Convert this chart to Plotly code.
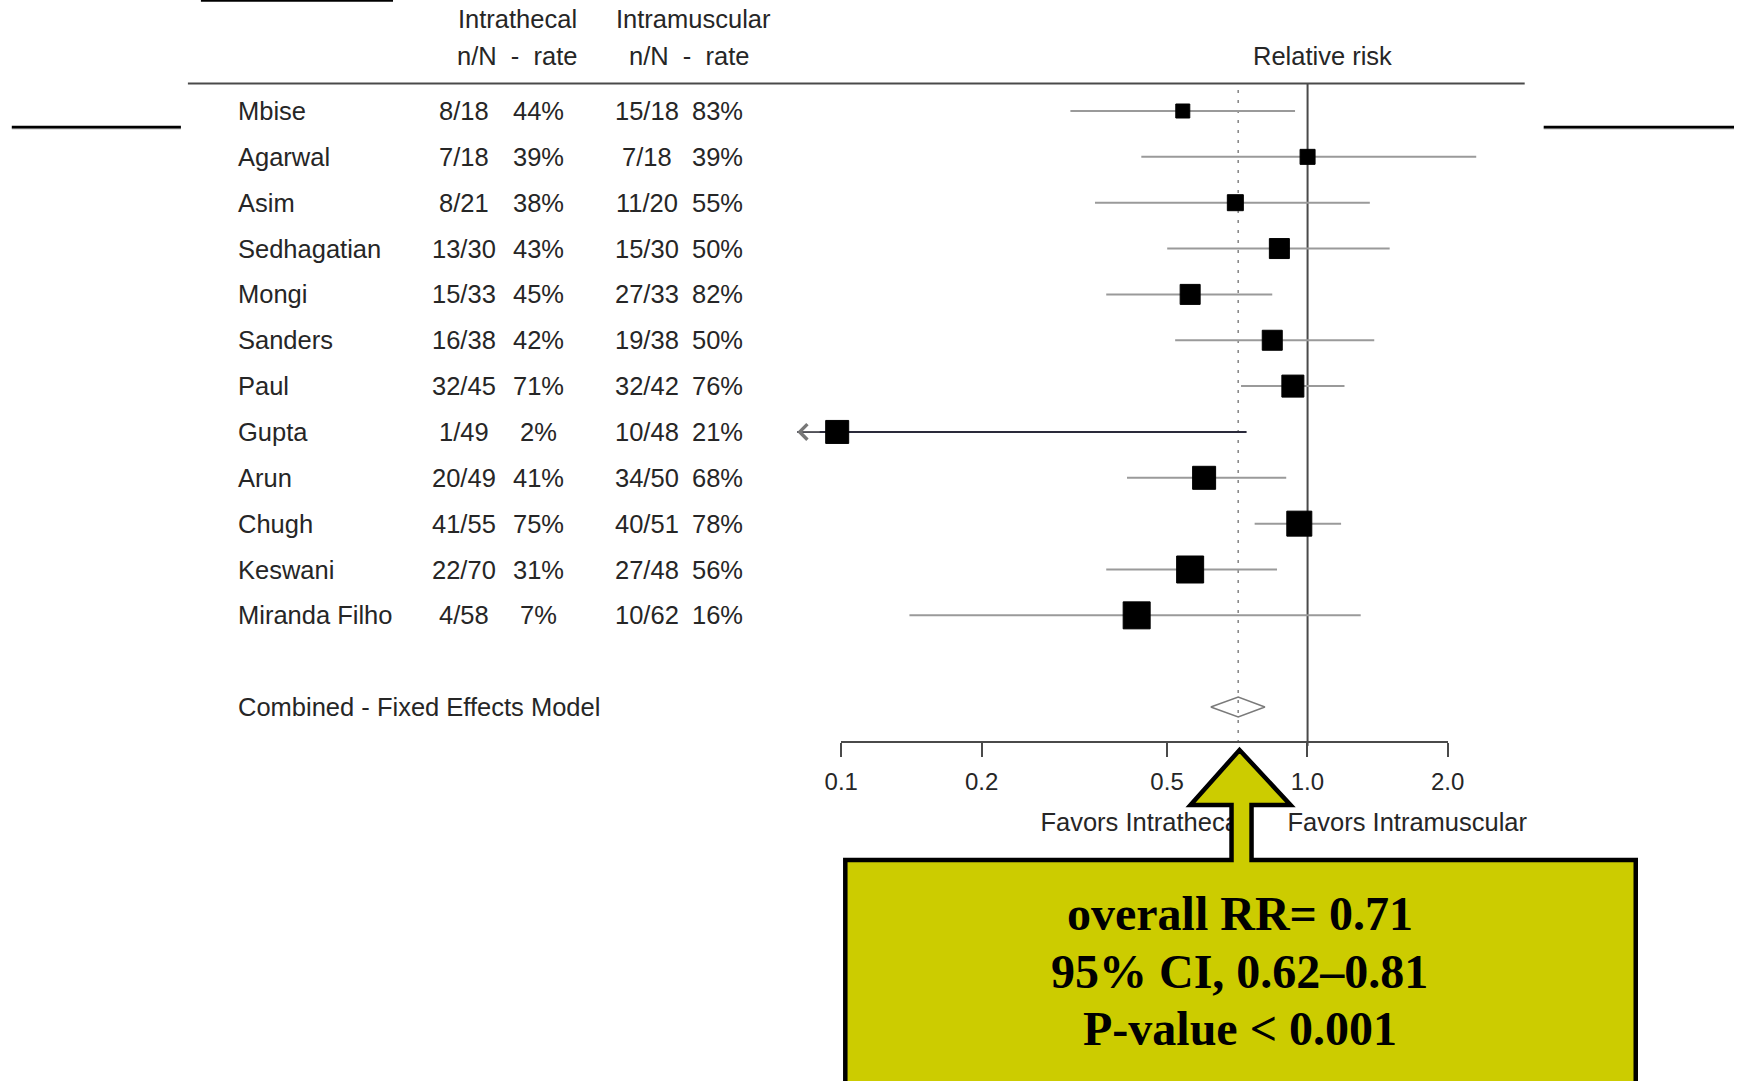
import math
import plotly.graph_objects as go

# ---------------- data ----------------
studies = ["Mbise", "Agarwal", "Asim", "Sedhagatian", "Mongi", "Sanders",
           "Paul", "Gupta", "Arun", "Chugh", "Keswani", "Miranda Filho"]
it_nN = ["8/18", "7/18", "8/21", "13/30", "15/33", "16/38",
         "32/45", "1/49", "20/49", "41/55", "22/70", "4/58"]
it_rate = ["44%", "39%", "38%", "43%", "45%", "42%",
           "71%", "2%", "41%", "75%", "31%", "7%"]
im_nN = ["15/18", "7/18", "11/20", "15/30", "27/33", "19/38",
         "32/42", "10/48", "34/50", "40/51", "27/48", "10/62"]
im_rate = ["83%", "39%", "55%", "50%", "82%", "50%",
           "76%", "21%", "68%", "78%", "56%", "16%"]
rr = [0.54, 1.00, 0.70, 0.87, 0.56, 0.84, 0.93, 0.098, 0.60, 0.96, 0.56, 0.43]
ci_lo = [0.31, 0.44, 0.35, 0.50, 0.37, 0.52, 0.72, 0.013, 0.41, 0.77, 0.37, 0.14]
ci_hi = [0.94, 2.30, 1.36, 1.50, 0.84, 1.39, 1.20, 0.74, 0.90, 1.18, 0.86, 1.30]

combined_label = "Combined - Fixed Effects Model"
combined_rr = 0.71
combined_lo = 0.62
combined_hi = 0.81

axis_tickvals = [0.1, 0.2, 0.5, 1.0, 2.0]
axis_ticktext = ["0.1", "0.2", "0.5", "1.0", "2.0"]
callout_lines = ["overall RR= 0.71", "95% CI, 0.62\u20130.81", "P-value < 0.001"]

# ---------------- geometry / style ----------------
W, H = 1751, 1081
# horizontal placement correction observed in the rendered page
OFF_X, SCALE_X = 17.2, 0.98
X_ONE, DEC = 1307.0, 466.0          # target pixel of RR=1, pixels per decade
ROW0, ROWH = 111.0, 45.85           # pixel of first row, row pitch
COMBINED_ROW = len(studies) + 1
square_px = [14, 15, 16, 20, 20, 20, 22, 23, 23, 25, 27, 27]

SANS = "Liberation Sans, Arial, sans-serif"
SERIF = "Liberation Serif, Times New Roman, serif"
TXT = "#262626"
FS = 25.5


def px2x(px):
    return (px - OFF_X) / (SCALE_X * W)


def py2y(py):
    return 1 - py / H


def row_of(py):
    return (py - ROW0) / ROWH


def rr_of(px):
    return 10 ** ((px - X_ONE) / DEC)


clip_lo = rr_of(797)
top_row = row_of(84)
axis_row = row_of(742)

fig = go.Figure()

# reference lines
fig.add_trace(go.Scatter(x=[1, 1], y=[top_row, axis_row + 0.3], mode="lines",
                         line=dict(color="#4a4a4a", width=2),
                         hoverinfo="skip", showlegend=False))
fig.add_trace(go.Scatter(x=[combined_rr, combined_rr], y=[row_of(90), axis_row],
                         mode="lines",
                         line=dict(color="#8a8a8a", width=1.6, dash="3px,7px"),
                         hoverinfo="skip", showlegend=False))

# confidence intervals
for i in range(len(studies)):
    lo = max(ci_lo[i], clip_lo)
    clipped = ci_lo[i] < clip_lo
    fig.add_trace(go.Scatter(
        x=[lo, ci_hi[i]], y=[i, i], mode="lines",
        line=dict(color="#2a2a3a" if clipped else "#9a9a9a", width=2),
        hoverinfo="skip", showlegend=False))
    if clipped:
        fig.add_annotation(x=math.log10(lo), y=i, xref="x", yref="y",
                           ax=24, ay=0, showarrow=True, arrowhead=4,
                           arrowsize=2.3, arrowwidth=1.3, arrowcolor="#777777",
                           text="")

# point estimates
fig.add_trace(go.Scatter(
    x=rr, y=list(range(len(studies))), mode="markers",
    marker=dict(symbol="square", size=square_px, color="#000000", opacity=1,
                line=dict(color="#000000", width=1)),
    hoverinfo="skip", showlegend=False))

# combined diamond
dh = 10 / ROWH
fig.add_trace(go.Scatter(
    x=[combined_lo, combined_rr, combined_hi, combined_rr, combined_lo],
    y=[COMBINED_ROW, COMBINED_ROW - dh, COMBINED_ROW, COMBINED_ROW + dh, COMBINED_ROW],
    mode="lines", line=dict(color="#7a7a7a", width=1.5),
    hoverinfo="skip", showlegend=False))

# favors labels (drawn as traces so the callout arrow covers them)
fig.add_trace(go.Scatter(
    x=[rr_of(1244)], y=[row_of(825)], mode="text", text=["Favors Intrathecal"],
    textposition="middle left", textfont=dict(family=SANS, size=FS, color=TXT),
    hoverinfo="skip", showlegend=False))
fig.add_trace(go.Scatter(
    x=[rr_of(1287)], y=[row_of(825)], mode="text", text=["Favors Intramuscular"],
    textposition="middle right", textfont=dict(family=SANS, size=FS, color=TXT),
    hoverinfo="skip", showlegend=False))

# helper trace for the displayed bottom axis
fig.add_trace(go.Scatter(x=[1], y=[0], xaxis="x2", yaxis="y2", mode="markers",
                         marker=dict(size=1, opacity=0), hoverinfo="skip",
                         showlegend=False))


# table text
def add_col(values, xc, anchor="center"):
    for i, v in enumerate(values):
        fig.add_annotation(x=px2x(xc), y=i, xref="paper", yref="y", text=v,
                           showarrow=False, xanchor=anchor, yanchor="middle",
                           font=dict(family=SANS, size=FS, color=TXT))


add_col(studies, 236, "left")
add_col(it_nN, 464)
add_col(it_rate, 538)
add_col(im_nN, 647)
add_col(im_rate, 717)
fig.add_annotation(x=px2x(236), y=COMBINED_ROW, xref="paper", yref="y",
                   text=combined_label, showarrow=False, xanchor="left",
                   yanchor="middle", font=dict(family=SANS, size=FS, color=TXT))

headers = [("Intrathecal", 517, 19), ("n/N  -  rate", 517, 56),
           ("Intramuscular", 693, 19), ("n/N  -  rate", 689, 56),
           ("Relative risk", 1322, 56)]
for t, xc, yc in headers:
    fig.add_annotation(x=px2x(xc), y=py2y(yc), xref="paper", yref="paper",
                       text=t, showarrow=False, xanchor="center", yanchor="middle",
                       font=dict(family=SANS, size=FS, color=TXT))

# callout text
for t, yc in zip(callout_lines, [913, 971, 1028]):
    fig.add_annotation(x=px2x(1239), y=py2y(yc), xref="paper", yref="paper",
                       text="<b>" + t + "</b>", showarrow=False,
                       xanchor="center", yanchor="middle",
                       font=dict(family=SERIF, size=48, color="#000000"))

# decorative lines
shapes = [
    dict(type="line", xref="paper", yref="paper", x0=px2x(188), x1=px2x(1524),
         y0=py2y(83.5), y1=py2y(83.5), line=dict(color="#4a4a4a", width=2), layer="below"),
    dict(type="line", xref="paper", yref="paper", x0=px2x(201), x1=px2x(393),
         y0=py2y(0.8), y1=py2y(0.8), line=dict(color="#000000", width=2)),
    dict(type="line", xref="paper", yref="paper", x0=px2x(12), x1=px2x(181),
         y0=py2y(128.6), y1=py2y(128.6), line=dict(color="#888888", width=1.5)),
    dict(type="line", xref="paper", yref="paper", x0=px2x(12), x1=px2x(181),
         y0=py2y(127), y1=py2y(127), line=dict(color="#000000", width=2.5)),
    dict(type="line", xref="paper", yref="paper", x0=px2x(1543), x1=1,
         y0=py2y(128.6), y1=py2y(128.6), line=dict(color="#888888", width=1.5)),
    dict(type="line", xref="paper", yref="paper", x0=px2x(1543), x1=1,
         y0=py2y(127), y1=py2y(127), line=dict(color="#000000", width=2.5)),
]

# callout box with arrow
pts = [(845, 1100), (845, 860), (1231, 860), (1231, 805), (1190, 805), (1239, 750),
       (1290, 805), (1251, 805), (1251, 860), (1635, 860), (1635, 1100)]
path = "M " + " L ".join(f"{px2x(a):.5f},{py2y(b):.5f}" for a, b in pts) + " Z"
shapes.append(dict(type="path", xref="paper", yref="paper", path=path,
                   fillcolor="#CCCC00", line=dict(color="#000000", width=4.5),
                   layer="above"))

x_left_t = OFF_X
x_right_t = OFF_X + SCALE_X * W

fig.update_layout(
    width=W, height=H, autosize=False,
    margin=dict(l=0, r=0, t=0, b=0, pad=0),
    paper_bgcolor="white", plot_bgcolor="white",
    showlegend=False,
    shapes=shapes,
    xaxis=dict(type="log",
               range=[(x_left_t - X_ONE) / DEC, (x_right_t - X_ONE) / DEC],
               domain=[0, 1], visible=False, fixedrange=True),
    yaxis=dict(range=[(H - ROW0) / ROWH, (0 - ROW0) / ROWH], domain=[0, 1],
               visible=False, fixedrange=True),
    xaxis2=dict(type="log", range=[-1, 0.30103],
                domain=[px2x(841), px2x(1447)], anchor="free", position=py2y(742),
                showline=True, linecolor="#4a4a4a", linewidth=2,
                ticks="outside", ticklen=14, tickwidth=2, tickcolor="#4a4a4a",
                tickvals=axis_tickvals, ticktext=axis_ticktext,
                tickfont=dict(family=SANS, size=24, color=TXT),
                ticklabelstandoff=4,
                showgrid=False, zeroline=False, fixedrange=True),
    yaxis2=dict(domain=[0.3, 0.31], anchor="x2", visible=False, fixedrange=True),
)

fig.write_html(
    "out.html",
    config={"displayModeBar": False},
    post_script="document.body.style.margin='0';"
                "document.documentElement.style.overflow='hidden';"
                "document.body.style.overflow='hidden';",
)
